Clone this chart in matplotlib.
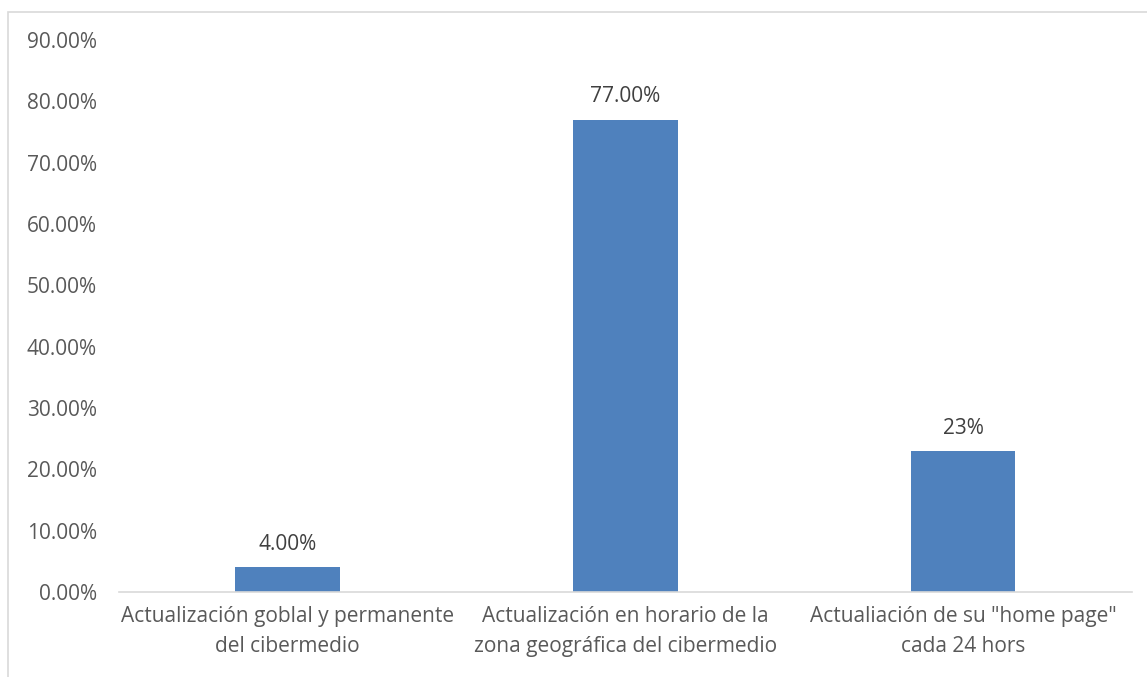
import matplotlib.pyplot as plt
from matplotlib.patches import Rectangle

categories = ["Actualización goblal y permanente\ndel cibermedio",
              "Actualización en horario de la\nzona geográfica del cibermedio",
              "Actualiación de su \"home page\"\ncada 24 hors"]
values = [0.04, 0.77, 0.23]
value_labels = ["4.00%", "77.00%", "23%"]
yticks = [0.0, 0.1, 0.2, 0.3, 0.4, 0.5, 0.6, 0.7, 0.8, 0.9]

plt.rcParams['font.family'] = ['Open Sans', 'DejaVu Sans']

fig = plt.figure(figsize=(11.47, 6.77), dpi=100)
ax = fig.add_axes([0.1037, 0.1256, 0.883, 0.8154])

# chart border (cropped on right and bottom)
fig.patches.append(Rectangle((8 / 1147, -0.1), 1.2, 1 - 12 / 677 + 0.1,
                             transform=fig.transFigure, fill=False,
                             edgecolor='#d9d9d9', linewidth=1.2))

x = range(len(categories))
ax.bar(x, values, width=0.31, color='#4f81bd')
for xi, v, lab in zip(x, values, value_labels):
    ax.text(xi, v + 0.02, lab, ha='center', va='bottom', fontsize=15, color='#404040')

ax.set_xlim(-0.5, 2.5)
ax.set_ylim(0, 0.9)
ax.set_yticks(yticks)
ax.set_yticklabels([f"{t*100:.2f}%" for t in yticks])
ax.set_xticks(list(x))
ax.set_xticklabels(categories, linespacing=1.55)
ax.tick_params(axis='both', length=0, labelsize=15, labelcolor='#595959')
ax.tick_params(axis='y', pad=16)
ax.tick_params(axis='x', pad=10)

for s in ['top', 'right', 'left']:
    ax.spines[s].set_visible(False)
ax.spines['bottom'].set_color('#d9d9d9')
ax.spines['bottom'].set_linewidth(1.2)

fig.savefig('out.png', dpi=100)
